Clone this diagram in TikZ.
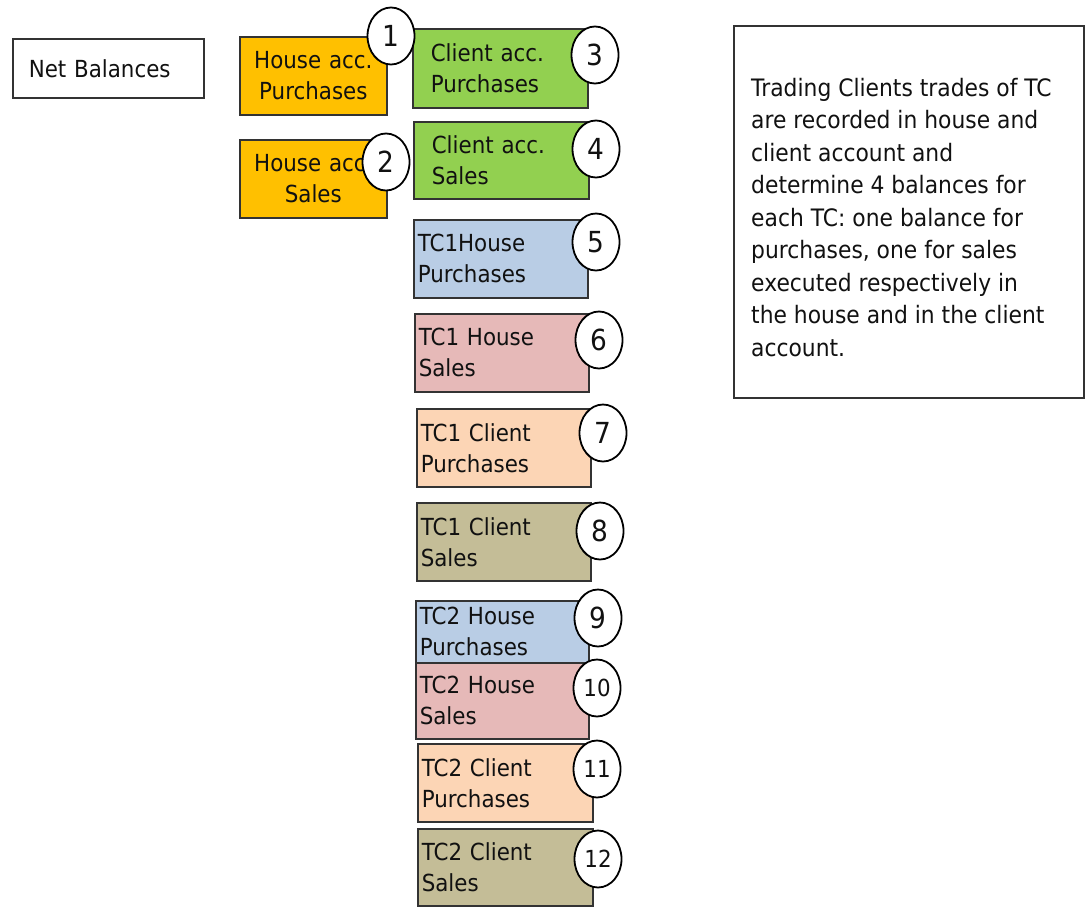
\documentclass[tikz,border=0pt]{standalone}
\usepackage{fontspec}
\setmainfont{DejaVu Sans}[FakeStretch=0.91]
\usetikzlibrary{shapes.geometric}
\definecolor{corange}{HTML}{FFC000}
\definecolor{cgreen}{HTML}{92D050}
\definecolor{cblue}{HTML}{B9CDE5}
\definecolor{cpink}{HTML}{E6B9B8}
\definecolor{cpeach}{HTML}{FCD5B5}
\definecolor{ckhaki}{HTML}{C4BD97}
\definecolor{cline}{HTML}{333333}
\definecolor{ctext}{HTML}{111111}
\tikzset{
  box/.style={draw=cline, line width=1.6pt, anchor=north west, inner ysep=0pt,
    text=ctext, font=\fontsize{23.5}{31}\selectfont},
  leftbox/.style={box, align=left},
  numcirc/.style={ellipse, draw=black, fill=white, line width=1.8pt,
    minimum width=47pt, minimum height=57pt, inner sep=0pt, text=ctext,
    font=\fontsize{29}{29}\selectfont},
  numcircsmall/.style={numcirc, font=\fontsize{23.5}{23.5}\selectfont},
  note/.style={anchor=north west, align=left, inner sep=0pt, text=ctext,
    font=\fontsize{24}{32.5}\selectfont}
}
\begin{document}
\begin{tikzpicture}[x=1pt,y=-1pt]
\useasboundingbox (0,0) rectangle (1086,910);

% Net Balances
\node[leftbox, fill=white, minimum width=191pt, minimum height=59pt,
  inner xsep=16pt, text width=159pt] (nb) at (12,38) {Net Balances};

% House account boxes
\node[box, align=center, fill=corange, minimum width=147pt, minimum height=78pt,
  inner xsep=4pt, text width=139pt] (hp) at (239,36) {House acc.\\Purchases};
\node[box, align=center, fill=corange, minimum width=147pt, minimum height=78pt,
  inner xsep=4pt, text width=139pt] (hs) at (239,139) {House acc.\\Sales};

% Client account boxes
\node[leftbox, fill=cgreen, minimum width=175pt, minimum height=79pt,
  inner xsep=18pt, text width=139pt] (cp) at (412,28) {Client acc.\\Purchases};
\node[leftbox, fill=cgreen, minimum width=175pt, minimum height=77pt,
  inner xsep=18pt, text width=139pt] (cs) at (413,121) {Client acc.\\Sales};

% TC1
\node[leftbox, fill=cblue, minimum width=174pt, minimum height=78pt,
  inner xsep=4pt, text width=166pt] (t1hp) at (413,219) {TC1House\\Purchases};
\node[leftbox, fill=cpink, minimum width=174pt, minimum height=78pt,
  inner xsep=4pt, text width=166pt] (t1hs) at (414,313) {TC1 House\\Sales};
\node[leftbox, fill=cpeach, minimum width=174pt, minimum height=78pt,
  inner xsep=4pt, text width=166pt] (t1cp) at (416,408) {TC1 Client\\Purchases};
\node[leftbox, fill=ckhaki, minimum width=174pt, minimum height=78pt,
  inner xsep=4pt, text width=166pt] (t1cs) at (416,502) {TC1 Client\\Sales};

% TC2
\node[leftbox, fill=cblue, minimum width=173pt, minimum height=62pt,
  inner xsep=4pt, text width=165pt] (t2hp) at (415,600) {TC2 House\\Purchases};
\node[leftbox, fill=cpink, minimum width=173pt, minimum height=76pt,
  inner xsep=4pt, text width=165pt] (t2hs) at (415,662) {TC2 House\\Sales};
\node[leftbox, fill=cpeach, minimum width=175pt, minimum height=78pt,
  inner xsep=4pt, text width=167pt] (t2cp) at (417,743) {TC2 Client\\Purchases};
\node[leftbox, fill=ckhaki, minimum width=175pt, minimum height=77pt,
  inner xsep=4pt, text width=167pt] (t2cs) at (417,828) {TC2 Client\\Sales};

% Number markers
\node[numcirc] (n1) at (391,36) {1};
\node[numcirc] (n2) at (386,162) {2};
\node[numcirc] (n3) at (595,55) {3};
\node[numcirc] (n4) at (596,149) {4};
\node[numcirc] (n5) at (596,242) {5};
\node[numcirc] (n6) at (599,340) {6};
\node[numcirc] (n7) at (603,433) {7};
\node[numcirc] (n8) at (600,531) {8};
\node[numcirc] (n9) at (598,618) {9};
\node[numcircsmall] (n10) at (597,688) {10};
\node[numcircsmall] (n11) at (597,769) {11};
\node[numcircsmall] (n12) at (598,859) {12};

% Explanation box
\node[draw=cline, line width=1.6pt, anchor=north west, minimum width=350pt,
  minimum height=372pt, inner sep=0pt] (expl) at (733,25) {};
\node[note] (expltext) at (751,78) {Trading Clients trades of TC\\
are recorded in house and\\
client account and\\
determine 4 balances for\\
each TC: one balance for\\
purchases, one for sales\\
executed respectively in\\
the house and in the client\\
account.};
\end{tikzpicture}
\end{document}
